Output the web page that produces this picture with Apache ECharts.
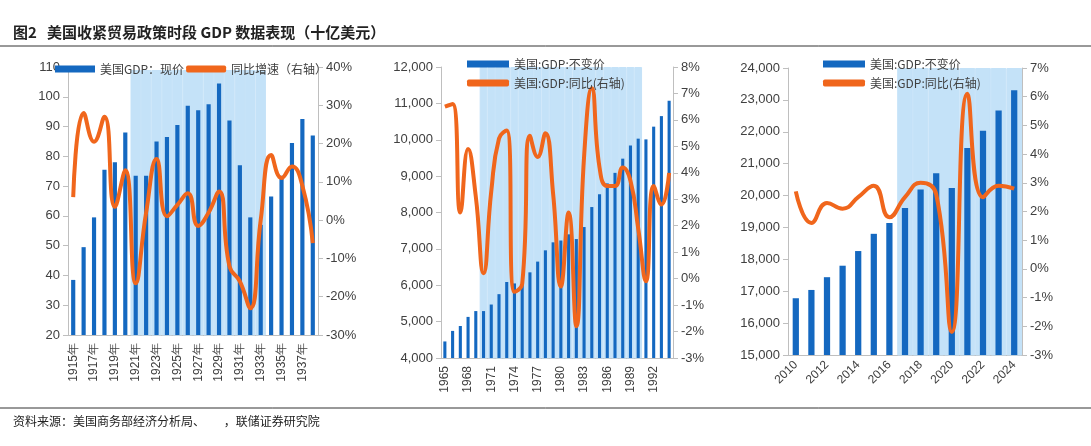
<!DOCTYPE html>
<html><head><meta charset="utf-8">
<script src="https://cdn.jsdelivr.net/npm/echarts@6/dist/echarts.min.js"></script>
<style>body{margin:0;background:#fff}#c{width:1091px;height:446px}</style>
</head><body><div id="c"></div>
<script>
// 面板1：1915-1938 现价GDP
var years1 = ['1915年','1916年','1917年','1918年','1919年','1920年','1921年','1922年','1923年','1924年','1925年','1926年','1927年','1928年','1929年','1930年','1931年','1932年','1933年','1934年','1935年','1936年','1937年','1938年'];
var gdp1 = [38.5,49.5,59.5,75.5,78,88,73.5,73.5,85,86.5,90.5,97,95.5,97.5,104.5,92,77,59.5,57,66.5,73.5,84.5,92.5,87];
var yoy1 = [6,28,20.5,27,3.5,13,-16.5,2,16,1,4,7,-1.5,2,7.5,-12,-16,-23,0,17,11,14,9,-6];
var shade1 = ['1921年','1933年'];
// 面板2：1965-1994 不变价GDP
var years2 = ['1965','1966','1967','1968','1969','1970','1971','1972','1973','1974','1975','1976','1977','1978','1979','1980','1981','1982','1983','1984','1985','1986','1987','1988','1989','1990','1991','1992','1993','1994'];
var gdp2 = [4455,4745,4880,5130,5290,5290,5470,5755,6090,6050,6030,6355,6650,6960,7180,7230,7400,7270,7600,8150,8500,8800,9090,9480,9840,10030,10010,10360,10650,11070];
var yoy2 = [6.5,6.6,2.5,4.9,3.1,0.2,3.3,5.3,5.6,-0.5,-0.2,5.4,4.6,5.5,3.2,-0.3,2.5,-1.8,4.6,7.2,4.2,3.5,3.5,4.2,3.7,1.9,-0.1,3.5,2.8,4.0];
var shade2 = ['1970','1990'];
// 面板3：2010-2024 不变价GDP
var years3 = ['2010','2011','2012','2013','2014','2015','2016','2017','2018','2019','2020','2021','2022','2023','2024'];
var gdp3 = [16780,17040,17440,17800,18260,18800,19140,19610,20190,20700,20240,21490,22030,22670,23300];
var yoy3 = [2.7,1.6,2.3,2.1,2.5,2.9,1.8,2.5,3.0,2.6,-2.2,6.1,2.5,2.9,2.8];
var shade3 = ['2017','2024'];

var BLUE = '#1468C0', ORANGE = '#F0661C', SHADE = '#C4E2F8', TXT = '#404040';
var grids = [
  {left: 68, right: 1091 - 318, top: 67, bottom: 446 - 335},
  {left: 441, right: 1091 - 673, top: 67, bottom: 446 - 358},
  {left: 788, right: 1091 - 1022, top: 68, bottom: 446 - 355}
];
function shadeData(cats, range, top) {
  var a = cats.indexOf(range[0]), b = cats.indexOf(range[1]);
  return cats.map(function (c, i) { return (i >= a && i <= b) ? top : null; });
}
var panels = [
  {cats: years1, gdp: gdp1, yoy: yoy1, shade: shade1, lmin: 20, lmax: 110, lint: 10, rmin: -30, rmax: 40, rint: 10,
   rot: 90, every: 1, nameBar: '美国GDP：现价', nameLine: '同比增速（右轴）', fmt: function (v) { return v; }, stop: 109},
  {cats: years2, gdp: gdp2, yoy: yoy2, shade: shade2, lmin: 4000, lmax: 12000, lint: 1000, rmin: -3, rmax: 8, rint: 1,
   rot: 90, every: 2, nameBar: '美国:GDP:不变价', nameLine: '美国:GDP:同比(右轴)', fmt: function (v) { return v.toLocaleString('en-US'); }, stop: 12000},
  {cats: years3, gdp: gdp3, yoy: yoy3, shade: shade3, lmin: 15000, lmax: 24000, lint: 1000, rmin: -3, rmax: 7, rint: 1,
   rot: 45, every: 1, nameBar: '美国:GDP:不变价 ', nameLine: '美国:GDP:同比(右轴) ', fmt: function (v) { return v.toLocaleString('en-US'); }, stop: 24000}
];
var xAxis = [], yAxis = [], series = [], legend = [];
panels.forEach(function (p, k) {
  var axLine = {show: true, onZero: false, lineStyle: {color: '#BFBFBF'}};
  var tick = {show: true, lineStyle: {color: '#BFBFBF'}};
  xAxis.push({type: 'category', gridIndex: k, data: p.cats, axisLine: axLine, axisTick: {show: false},
    axisLabel: {rotate: p.rot, interval: p.every, color: TXT, fontSize: 12, fontFamily: 'Liberation Sans'}});
  xAxis.push({type: 'category', gridIndex: k, data: p.cats, show: false});
  yAxis.push({type: 'value', gridIndex: k, min: p.lmin, max: p.lmax, interval: p.lint, splitLine: {show: false},
    axisLine: axLine, axisTick: tick,
    axisLabel: {color: TXT, fontSize: 13, fontFamily: 'Liberation Sans', formatter: p.fmt}});
  yAxis.push({type: 'value', gridIndex: k, min: p.rmin, max: p.rmax, interval: p.rint, splitLine: {show: false},
    axisLine: axLine, axisTick: tick,
    axisLabel: {color: TXT, fontSize: 13, fontFamily: 'Liberation Sans', formatter: '{value}%'}});
  series.push({type: 'bar', xAxisIndex: k * 2 + 1, yAxisIndex: k * 2, data: shadeData(p.cats, p.shade, p.stop),
    barWidth: '100%', barCategoryGap: '0%', itemStyle: {color: SHADE, borderColor: SHADE, borderWidth: 1}, silent: true, z: 1});
  series.push({name: p.nameBar, type: 'bar', xAxisIndex: k * 2, yAxisIndex: k * 2, data: p.gdp,
    barWidth: '40%', itemStyle: {color: BLUE}, z: 2});
  series.push({name: p.nameLine, type: 'line', xAxisIndex: k * 2, yAxisIndex: k * 2 + 1, data: p.yoy, smooth: true,
    symbol: 'none', lineStyle: {color: ORANGE, width: 4}, itemStyle: {color: ORANGE}, z: 3});
});
var legStyle = {color: TXT, fontSize: 12, fontFamily: 'Noto Sans CJK SC'};
function legData(p) {
  return [{name: p.nameBar, icon: 'rect'}, {name: p.nameLine, icon: 'roundRect', itemStyle: {color: ORANGE}}];
}
legend.push({data: legData(panels[0]), left: 50, top: 58, itemWidth: 40, itemHeight: 7, itemGap: 2, textStyle: legStyle});
legend.push({data: legData(panels[1]), orient: 'vertical', left: 462, top: 53, itemWidth: 42, itemHeight: 7, itemGap: 7, textStyle: legStyle});
legend.push({data: legData(panels[2]), orient: 'vertical', left: 818, top: 53, itemWidth: 42, itemHeight: 7, itemGap: 7, textStyle: legStyle});

var chart = echarts.init(document.getElementById('c'));
chart.setOption({
  animation: false,
  title: [
    {text: '图2   美国收紧贸易政策时段 GDP 数据表现（十亿美元）', left: 8, top: 20,
     textStyle: {fontSize: 15, fontWeight: 'bold', color: '#222', fontFamily: 'Noto Sans CJK SC'}},
    {text: '资料来源：美国商务部经济分析局、       ，联储证券研究院', left: 8, top: 410,
     textStyle: {fontSize: 12, fontWeight: 'normal', color: '#222', fontFamily: 'Noto Sans CJK SC'}}
  ],
  graphic: [
    {type: 'line', shape: {x1: 0, y1: 46, x2: 1091, y2: 46}, style: {stroke: '#333', lineWidth: 1}},
    {type: 'line', shape: {x1: 0, y1: 408, x2: 1091, y2: 408}, style: {stroke: '#333', lineWidth: 1}}
  ],
  legend: legend,
  grid: grids,
  xAxis: xAxis,
  yAxis: yAxis,
  series: series
});
</script></body></html>
